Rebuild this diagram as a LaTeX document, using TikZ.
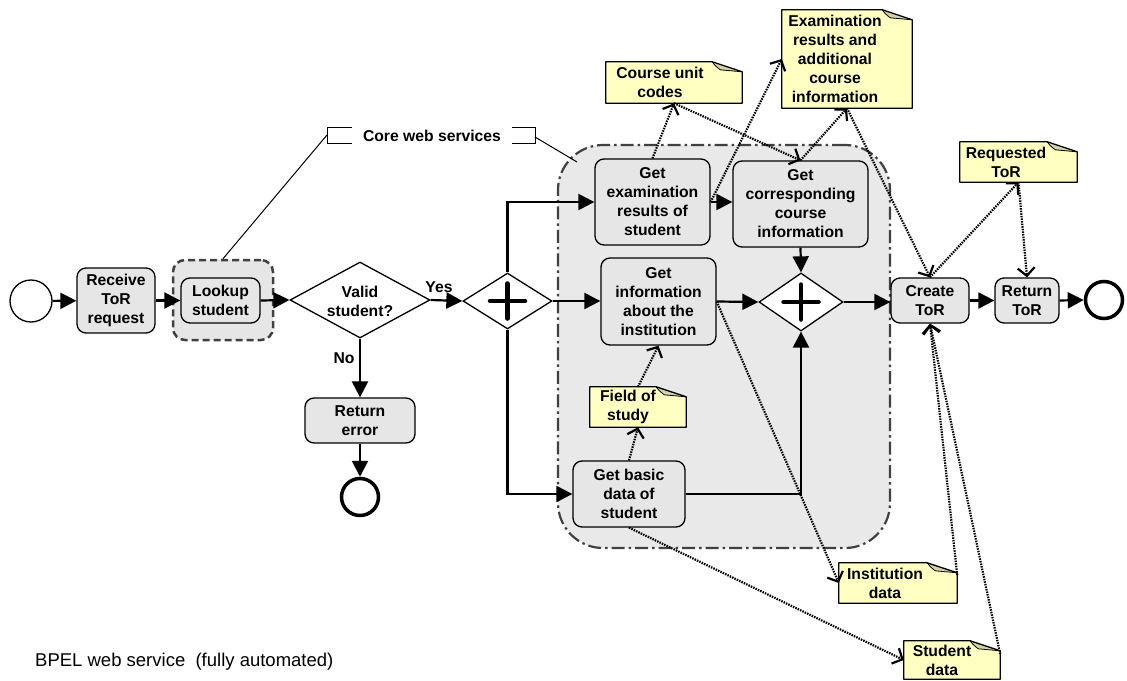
\documentclass[tikz,border=0pt]{standalone}
\usepackage{fontspec}
\setmainfont{Liberation Sans}
\usetikzlibrary{arrows.meta,shapes.geometric,calc}
\definecolor{boxgray}{HTML}{E6E6E6}
\definecolor{grpgray}{HTML}{E9E9E9}
\definecolor{noteyel}{HTML}{FFFFC2}
\definecolor{notefold}{HTML}{D4D4A6}
\definecolor{dashgray}{HTML}{404040}
\begin{document}
\begin{tikzpicture}[x=1pt,y=-1pt,
 every node/.style={font=\bfseries\fontsize{15.7}{19}\selectfont, align=center, inner sep=0pt},
 task/.style={draw, line width=1.3pt, fill=boxgray, rounded corners=9pt},
 gate/.style={diamond, draw, line width=1.3pt, fill=white},
 plusgate/.style={gate, path picture={\draw[line width=4.5pt, line cap=round]
   ([xshift=-17.5pt]path picture bounding box.center) -- ([xshift=17.5pt]path picture bounding box.center)
   ([yshift=-17.5pt]path picture bounding box.center) -- ([yshift=17.5pt]path picture bounding box.center);}},
 startev/.style={circle, draw, line width=1.3pt, fill=white, minimum size=42pt},
 endev/.style={circle, draw, line width=3.5pt, fill=white, minimum size=37pt},
 flow/.style={line width=2.2pt, -{Triangle[length=16pt,width=16pt]}},
 assoc/.style={line width=2.2pt, dash pattern=on 1.5pt off 1.1pt, -{Straight Barb[length=8pt,width=17pt,line width=2.2pt]}},
 thinline/.style={line width=1pt}
]
\useasboundingbox (0,0) rectangle (1127,680);

% groups
\node[draw=dashgray, fill=grpgray, line width=2.2pt, dash pattern=on 13pt off 4pt on 2.5pt off 4pt,
      rounded corners=45pt, minimum width=332pt, minimum height=403pt] (core) at (724,346.5) {};
\node[draw=dashgray, fill=boxgray, line width=2.5pt, dash pattern=on 7pt off 4pt,
      rounded corners=12pt, minimum width=100pt, minimum height=80pt] (lkgrp) at (223,300) {};

% events and tasks
\node[startev] (start) at (31,301) {};
\node[task, minimum width=78pt, minimum height=65pt] (recv) at (116,300.5) {Receive\\ToR\\request};
\node[task, minimum width=79pt, minimum height=45pt] (look) at (220.5,300.5) {Lookup\\student};
\node[gate, minimum width=140pt, minimum height=76pt] (valid) at (360,300) {};
\node (validt) at (360,301) {Valid\\student?};
\node[plusgate, minimum width=89pt, minimum height=56pt] (gw1) at (507.5,301) {};
\node[task, minimum width=110pt, minimum height=45pt] (reterr) at (360,420.5) {Return\\error};
\node[endev] (enderr) at (360,497) {};
\node[task, minimum width=115pt, minimum height=86pt] (getexam) at (652.5,202) {Get\\examination\\results of\\student};
\node[task, minimum width=135pt, minimum height=86pt] (getcorr) at (800.5,204) {Get\\corresponding\\course\\information};
\node[task, minimum width=115pt, minimum height=87pt] (getinst) at (658.5,301.5) {Get\\information\\about the\\institution};
\node[plusgate, minimum width=84pt, minimum height=58pt] (gw2) at (801,302) {};
\node[task, minimum width=112pt, minimum height=66pt] (getbasic) at (629,494) {Get basic\\data of\\student};
\node[task, minimum width=78pt, minimum height=45pt] (create) at (930,300.5) {Create\\ToR};
\node[task, minimum width=64pt, minimum height=45pt] (rettor) at (1027,300.5) {Return\\ToR};
\node[endev] (end) at (1104,300) {};

% notes (boxes)
\node[minimum width=136pt, minimum height=41pt] (cuc) at (674,82.5) {};
\node[minimum width=130pt, minimum height=98pt] (erc) at (847,59) {};
\node[minimum width=96pt, minimum height=40pt] (fos) at (638,407) {};
\node[minimum width=117pt, minimum height=40pt] (rtor) at (1018.5,162) {};
\node[minimum width=118pt, minimum height=40pt] (insd) at (898,583) {};
\node[minimum width=96pt, minimum height=38pt] (stud) at (952,660) {};
\foreach \n in {cuc,erc,fos,rtor,insd,stud}{
  \fill[noteyel] (\n.south west) -- (\n.north west) -- ([xshift=-30pt]\n.north east)
     -- ([yshift=-10pt]\n.north east) -- (\n.south east) -- cycle;
  \fill[notefold] ([xshift=-30pt]\n.north east) -- ([yshift=-10pt]\n.north east)
     -- ([xshift=-22pt,yshift=-8pt]\n.north east) -- cycle;
  \draw[line width=1.3pt, line join=round] (\n.south west) -- (\n.north west) -- ([xshift=-30pt]\n.north east)
     -- ([yshift=-10pt]\n.north east) -- (\n.south east) -- cycle;
  \draw[line width=0.8pt] ([xshift=-30pt]\n.north east) .. controls ([xshift=-27pt,yshift=-4pt]\n.north east) .. ([xshift=-22pt,yshift=-8pt]\n.north east) -- ([yshift=-10pt]\n.north east);
}
\node (cuct) at (660,82.5) {Course unit\\codes};
\node (erct) at (835,59) {Examination\\results and\\additional\\course\\information};
\node (fost) at (628,407) {Field of\\study};
\node (rtort) at (1006,162) {Requested\\ToR};
\node (insdt) at (885,583) {Institution\\data};
\node (studt) at (942,660) {Student\\data};

% annotation
\node (cws) at (432,136) {Core web services};
\draw[thinline] (352,127) -- (327,127) -- (327,143) -- (352,143);
\draw[thinline] (512,127) -- (535,127) -- (535,143) -- (512,143);
\coordinate (cwl) at (327,135);
\coordinate (cwr) at (535,137);
\coordinate (coreatt) at (577,162);
\draw[thinline] (cwl) -- (lkgrp.north);
\draw[thinline] (cwr) -- (coreatt);

% sequence flows
\draw[flow] (start) -- (recv);
\draw[flow] (recv.east) -- (look.west);
\draw[flow] (look.east) -- (valid.west);
\draw[flow] (valid.east) -- (gw1.west);
\node (yes) at (439,287) {Yes};
\draw[flow] (valid.south) -- (reterr.north);
\node (no) at (344,358) {No};
\draw[flow] (reterr.south) -- (enderr.north);
\draw[flow] (gw1.east) -- (gw1.east -| getinst.west);
\draw[flow] (gw1.north) |- (getexam.west);
\draw[flow] (gw1.south) |- (getbasic.west);
\draw[flow] (getexam.east) -- (getexam.east -| getcorr.west);
\draw[flow] (getcorr.south) -- (gw2.north);
\draw[flow] (getinst.east) -- (gw2.west);
\draw[flow] (getbasic.east) -| (gw2.south);
\draw[flow] (gw2.east) -- (gw2.east -| create.west);
\draw[flow] (create.east) -- (rettor.west);
\draw[flow] (rettor.east) -- (end.west);

% data associations
\draw[assoc] (getexam.north) -- (cuc.south);
\draw[assoc] (cuc.south) -- (getcorr.north);
\draw[assoc] (getexam.east) -- (erc.west);
\draw[assoc] (getcorr.north) -- (erc.south);
\draw[assoc] (erc.south) -- (create.north);
\draw[assoc] (create.north) -- (rtor.south);
\draw[assoc] (rtor.south) -- (rettor.north);
\draw[assoc] (getbasic.north) -- (fos.south);
\draw[assoc] (fos.north) -- (getinst.south);
\draw[assoc] (getinst.east) -- (insd.west);
\draw[assoc] (getbasic.south) -- (stud.west);
\draw[assoc] ([yshift=8pt]insd.east) -- (create.south);
\draw[assoc] ([yshift=6pt]stud.east) -- (create.south);

% caption
\node[font=\fontsize{18.5}{22}\selectfont, anchor=west] (caption) at (35,662) {BPEL web service\ \ (fully automated)};
\end{tikzpicture}
\end{document}
